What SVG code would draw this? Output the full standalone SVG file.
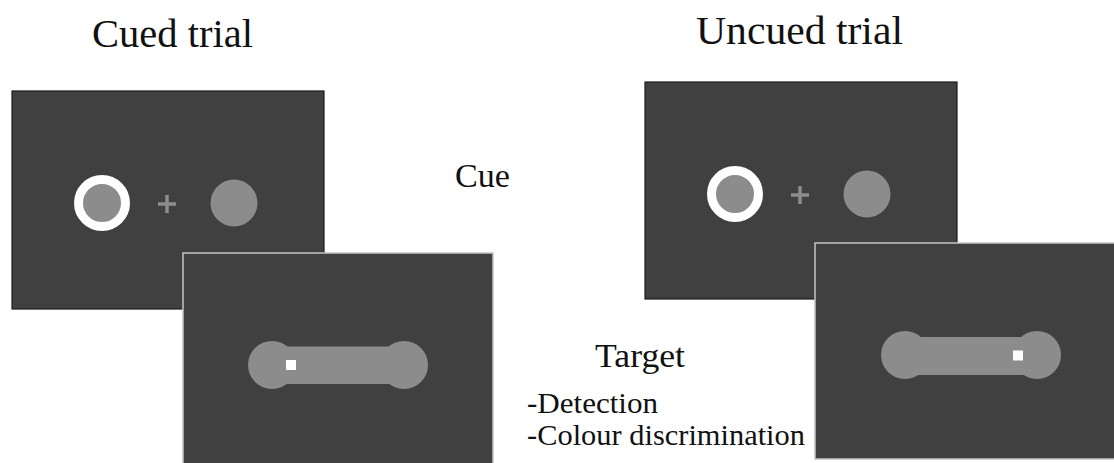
<svg xmlns="http://www.w3.org/2000/svg" width="1114" height="463" viewBox="0 0 1114 463">
  <defs>
    <style>
      .screen-back { fill: #404040; stroke: #1c1c1c; stroke-width: 1.2; }
      .screen-front { fill: #404040; stroke: #c4c4c4; stroke-width: 1.5; }
      .disc { fill: #8c8c8c; }
      .cue-ring { fill: #8c8c8c; stroke: #ffffff; stroke-width: 9; }
      .fix { stroke: #8c8c8c; stroke-width: 3.5; }
      .probe { fill: #ffffff; }
      text { fill: #111111; }
    </style>
  </defs>
  <rect width="1114" height="463" fill="#ffffff"/>

  <!-- column headings -->
  <g id="headings" font-family="Liberation Serif, Times New Roman, serif">
    <text x="92" y="47" font-size="40" textLength="161" lengthAdjust="spacingAndGlyphs">Cued trial</text>
    <text x="696" y="44" font-size="40" textLength="207" lengthAdjust="spacingAndGlyphs">Uncued trial</text>
  </g>

  <!-- cued trial: cue display -->
  <g id="cued-cue-screen">
    <rect class="screen-back" x="12" y="91" width="312" height="218"/>
    <circle class="cue-ring" cx="102" cy="203" r="23.5"/>
    <line class="fix" x1="158" y1="204" x2="176" y2="204"/>
    <line class="fix" x1="167" y1="195" x2="167" y2="213"/>
    <circle class="disc" cx="234" cy="203" r="23.5"/>
  </g>

  <!-- cued trial: target display -->
  <g id="cued-target-screen">
    <rect class="screen-front" x="183" y="253" width="310" height="212"/>
    <circle class="disc" cx="272" cy="365" r="24"/>
    <circle class="disc" cx="404" cy="365" r="24"/>
    <rect class="disc" x="272" y="346.5" width="132" height="37.5"/>
    <rect class="probe" x="286" y="360" width="10" height="10"/>
  </g>

  <!-- uncued trial: cue display -->
  <g id="uncued-cue-screen">
    <rect class="screen-back" x="645" y="82" width="312" height="217"/>
    <circle class="cue-ring" cx="735" cy="194" r="23.5"/>
    <line class="fix" x1="791" y1="195" x2="809" y2="195"/>
    <line class="fix" x1="800" y1="186" x2="800" y2="204"/>
    <circle class="disc" cx="867" cy="194" r="23.5"/>
  </g>

  <!-- uncued trial: target display -->
  <g id="uncued-target-screen">
    <rect class="screen-front" x="815" y="243" width="312" height="216"/>
    <circle class="disc" cx="905" cy="355" r="24"/>
    <circle class="disc" cx="1037" cy="355" r="24"/>
    <rect class="disc" x="905" y="337" width="132" height="38"/>
    <rect class="probe" x="1013" y="350.5" width="10" height="10"/>
  </g>

  <!-- phase labels -->
  <g id="cue-label" font-family="Liberation Serif, Times New Roman, serif">
    <text x="455" y="187" font-size="34" textLength="55" lengthAdjust="spacingAndGlyphs">Cue</text>
  </g>
  <g id="target-label" font-family="Liberation Serif, Times New Roman, serif">
    <text x="595" y="367" font-size="34" textLength="90" lengthAdjust="spacingAndGlyphs">Target</text>
    <text x="527" y="413" font-size="30" textLength="131" lengthAdjust="spacingAndGlyphs">-Detection</text>
    <text x="527" y="445" font-size="30" textLength="278" lengthAdjust="spacingAndGlyphs">-Colour discrimination</text>
  </g>
</svg>
